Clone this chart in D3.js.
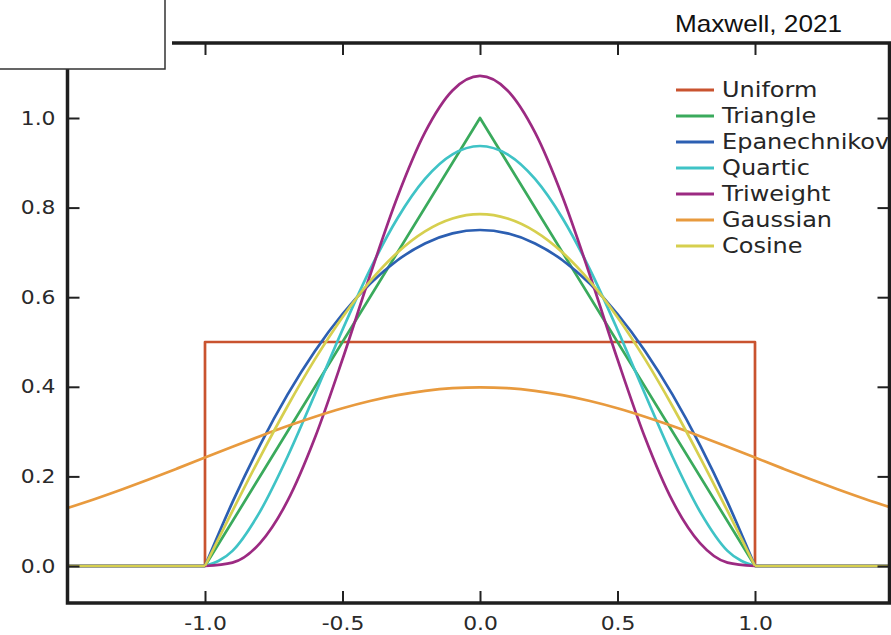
<!DOCTYPE html>
<html lang="en">
<head>
<meta charset="utf-8">
<title>Kernel functions</title>
<script src="https://cdn.jsdelivr.net/npm/d3@7"></script>
<style>
  body { margin: 0; background: #fff; }
  .axis text { font-family: "DejaVu Sans", sans-serif; font-size: 19px; fill: #2a2a2a; }
  .axis line { stroke: #222; stroke-width: 2; }
  .legend { font-family: "DejaVu Sans", sans-serif; font-size: 20.5px; fill: #262626; dominant-baseline: middle; }
  .note { font-family: "Liberation Sans", Arial, sans-serif; font-size: 24px; fill: #111; }
</style>
</head>
<body>
<script>
var w = 891, h = 635;

// sample points
var uCore = [-1.0,-0.9,-0.8,-0.7,-0.6,-0.5,-0.4,-0.3,-0.2,-0.1,0.0,0.1,0.2,0.3,0.4,0.5,0.6,0.7,0.8,0.9,1.0];
var uGauss = [-1.5,-1.4,-1.3,-1.2,-1.1,-1.0,-0.9,-0.8,-0.7,-0.6,-0.5,-0.4,-0.3,-0.2,-0.1,0.0,
              0.1,0.2,0.3,0.4,0.5,0.6,0.7,0.8,0.9,1.0,1.1,1.2,1.3,1.4,1.5];

var uniformX = [-1.5,-1.0,-1.0,1.0,1.0,1.5];
var uniformY = [0,0,0.5,0.5,0,0];
var triangleX = [-1.0,0.0,1.0];
var triangleY = [0,1.0,0];
var epanY = [0,0.1425,0.27,0.3825,0.48,0.5625,0.63,0.6825,0.72,0.7425,0.75,
             0.7425,0.72,0.6825,0.63,0.5625,0.48,0.3825,0.27,0.1425,0];
var quarticY = [0,0.0338,0.1215,0.2438,0.384,0.5273,0.6615,0.7763,0.864,0.9188,0.9375,
                0.9188,0.864,0.7763,0.6615,0.5273,0.384,0.2438,0.1215,0.0338,0];
var triweightY = [0,0.0075,0.051,0.1451,0.2867,0.4614,0.6483,0.8242,0.9677,1.0613,1.0938,
                  1.0613,0.9677,0.8242,0.6483,0.4614,0.2867,0.1451,0.051,0.0075,0];
var gaussY = [0.1295,0.1497,0.1714,0.1942,0.2179,0.242,0.2661,0.2897,0.3123,0.3332,0.3521,0.3683,0.3814,0.391,0.397,0.3989,
              0.397,0.391,0.3814,0.3683,0.3521,0.3332,0.3123,0.2897,0.2661,0.242,0.2179,0.1942,0.1714,0.1497,0.1295];
var cosineY = [0,0.1229,0.2427,0.3566,0.4617,0.5554,0.6354,0.6998,0.747,0.7757,0.7854,
               0.7757,0.747,0.6998,0.6354,0.5554,0.4617,0.3566,0.2427,0.1229,0];
var tailX = [[-1.5,-1.0],[1.0,1.5]];

var names = ["Uniform","Triangle","Epanechnikov","Quartic","Triweight","Gaussian","Cosine"];
var colors = ["#c9532f","#3aaa5c","#2c5fb2","#3fc3c6","#9c2a82","#e89a3e","#d6cf4e"];

var xTicks = [-1.0,-0.5,0.0,0.5,1.0];
var yTicks = [0.0,0.2,0.4,0.6,0.8,1.0];

var zip = function(xs, ys) { return xs.map(function(v, i) { return [v, ys[i]]; }); };

var series = [
  {name: names[0], pts: zip(uniformX, uniformY), curve: d3.curveLinear, tails: false},
  {name: names[1], pts: zip(triangleX, triangleY), curve: d3.curveLinear, tails: true},
  {name: names[2], pts: zip(uCore, epanY), curve: d3.curveMonotoneX, tails: true},
  {name: names[3], pts: zip(uCore, quarticY), curve: d3.curveMonotoneX, tails: true},
  {name: names[4], pts: zip(uCore, triweightY), curve: d3.curveMonotoneX, tails: true},
  {name: names[5], pts: zip(uGauss, gaussY), curve: d3.curveMonotoneX, tails: false},
  {name: names[6], pts: zip(uCore, cosineY), curve: d3.curveMonotoneX, tails: true}
];

var padL = 67.5, padR = 892.5, padT = 43, padB = 603;
var xScale = d3.scaleLinear().domain([-1.5, 1.5]).range([padL, padR]);
var yScale = d3.scaleLinear().domain([-0.0826, 1.1674]).range([padB, padT]);
var fmt = function(d) { return d.toFixed(1); };

var svg = d3.select("body").append("svg").attr("width", w).attr("height", h);

// stretch text a bit wider, like the source picture
function widen(sel, k) {
  sel.each(function() {
    var len = this.getComputedTextLength();
    d3.select(this).attr("textLength", len * k).attr("lengthAdjust", "spacingAndGlyphs");
  });
}

var plain = d3.line().x(function(d) { return xScale(d[0]); }).y(function(d) { return yScale(d[1]); });

// curves
series.forEach(function(s, i) {
  if (s.tails) {
    tailX.forEach(function(t) {
      svg.append("path").datum(zip(t, [0, 0]))
        .attr("d", plain)
        .attr("fill", "none").attr("stroke", colors[i]).attr("stroke-width", 2.7);
    });
  }
  svg.append("path").datum(s.pts)
    .attr("d", plain.curve(s.curve))
    .attr("fill", "none")
    .attr("stroke", colors[i])
    .attr("stroke-width", 2.7)
    .attr("stroke-linejoin", "round");
  plain.curve(d3.curveLinear);
});

// axes with inward ticks
var gx = svg.append("g").attr("class", "axis").attr("transform", "translate(0," + padB + ")")
  .call(d3.axisBottom(xScale).tickValues(xTicks).tickSize(-12).tickPadding(14).tickFormat(fmt));
var gy = svg.append("g").attr("class", "axis").attr("transform", "translate(" + padL + ",0)")
  .call(d3.axisLeft(yScale).tickValues(yTicks).tickSize(-12).tickPadding(12).tickFormat(fmt));
svg.append("g").attr("class", "axis").attr("transform", "translate(0," + padT + ")")
  .call(d3.axisTop(xScale).tickValues(xTicks).tickSize(-12).tickFormat(""));
svg.append("g").attr("class", "axis").attr("transform", "translate(" + (w - 1.5) + ",0)")
  .call(d3.axisRight(yScale).tickValues(yTicks).tickSize(-12).tickFormat(""));
svg.selectAll(".axis .domain").remove();
gx.selectAll("text").call(widen, 1.15);
gy.selectAll("text").call(widen, 1.15);

// frame
svg.append("rect")
  .attr("x", padL).attr("y", padT)
  .attr("width", w - 1.5 - padL).attr("height", padB - padT)
  .attr("fill", "none").attr("stroke", "#1e1e1e").attr("stroke-width", 3.5);

// legend
var legX = 676, legY = 90, legStep = 26;
var leg = svg.selectAll(".leg").data(names).enter().append("g")
  .attr("transform", function(d, i) { return "translate(" + legX + "," + (legY + legStep * i) + ")"; });
leg.append("line").attr("x1", 0).attr("x2", 38).attr("y1", 0).attr("y2", 0)
  .attr("stroke", function(d, i) { return colors[i]; }).attr("stroke-width", 3.2);
leg.append("text").attr("class", "legend").attr("x", 46).attr("y", 1).text(function(d) { return d; })
  .call(widen, 1.17);

// blank box over the top-left corner
svg.append("rect").attr("x", 0).attr("y", 0).attr("width", 172).attr("height", 69).attr("fill", "#fff");
svg.append("path").attr("d", "M0,69H165V0").attr("fill", "none").attr("stroke", "#333").attr("stroke-width", 1.5);

svg.append("text").attr("class", "note").attr("x", 675).attr("y", 32)
  .attr("textLength", 167).attr("lengthAdjust", "spacingAndGlyphs").text("Maxwell, 2021");
</script>
</body>
</html>
